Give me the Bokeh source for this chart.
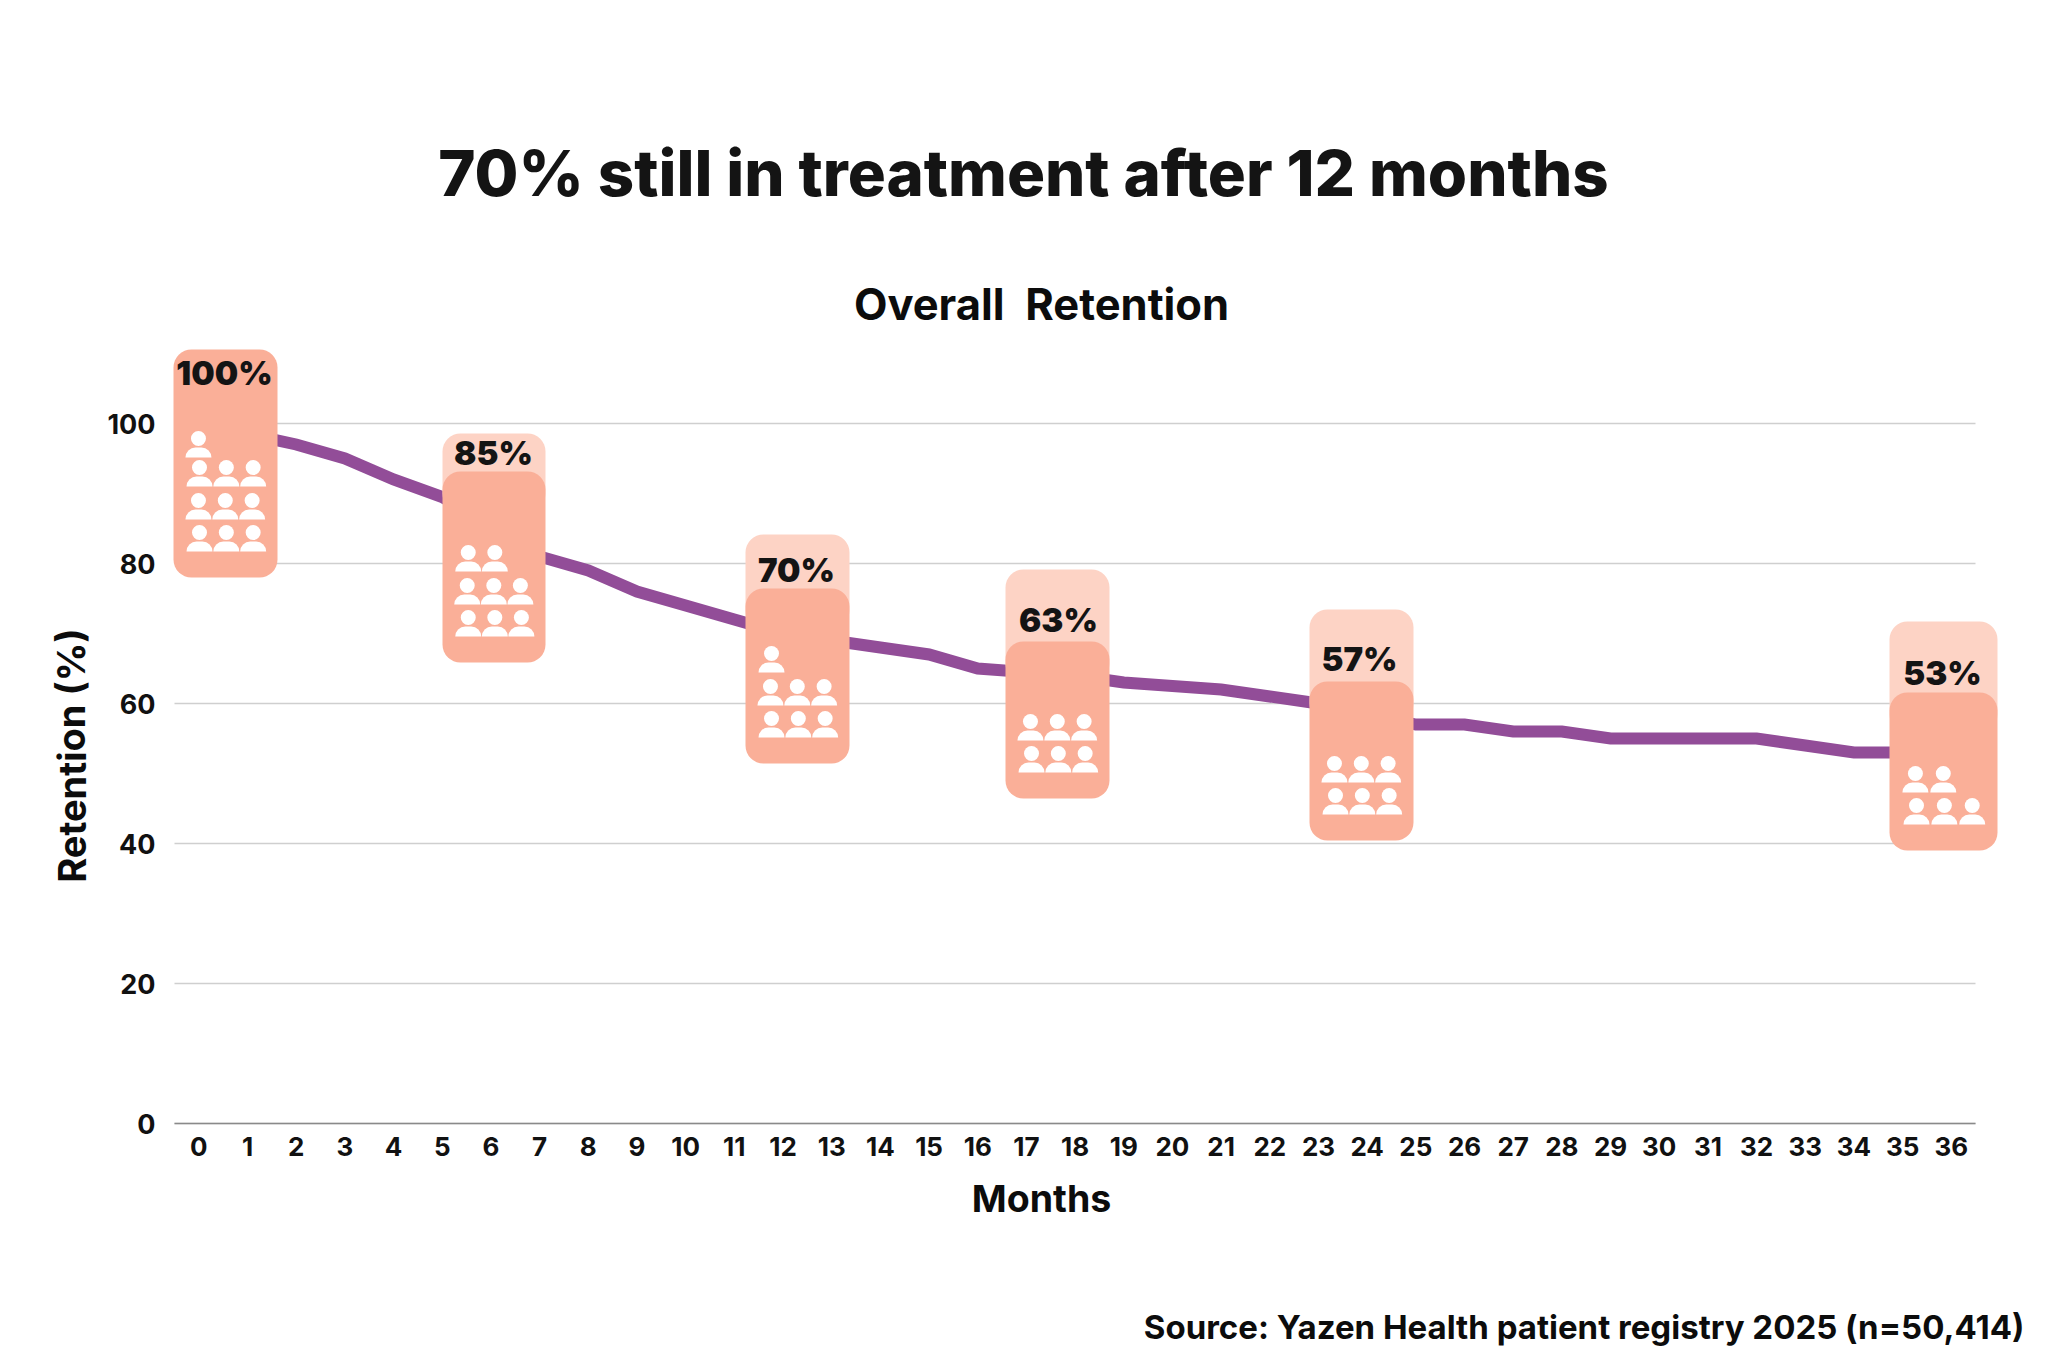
from bokeh.plotting import figure
from bokeh.models import Label, FixedTicker, Range1d
from bokeh.core.properties import value
from bokeh.embed import file_html
from bokeh.resources import INLINE

# ---- data ----
months = list(range(37))
retention = [100, 98.5, 97, 95, 92, 89.5, 85.5, 81, 79, 76, 74, 72, 70, 69, 68, 67, 65, 64.5, 64,
             63, 62.5, 62, 61, 60, 58.5, 57, 57, 56, 56, 55, 55, 55, 55, 54, 53, 53, 53]
milestone_labels = ["100%", "85%", "70%", "63%", "57%", "53%"]
icon_counts = [10, 8, 7, 6, 6, 5]
x_ticks = months
y_ticks = [0, 20, 40, 60, 80, 100]
title_text = "70% still in treatment after 12 months"
subtitle_text = "Overall\u00a0 Retention"
source_text = "Source: Yazen Health patient registry 2025 (n=50,414)"

# ---- layout (reference pixel geometry) ----
W = 2032; H = 1352
X_PER = 48.68; X_LEFT = 174.0; Y_PER = 7.0; Y_ZERO = 1123.0
def xd(px): return (px - X_LEFT) / X_PER - 0.5
def yd(py): return (Y_ZERO - py) / Y_PER

# card: left, right, light top, dark top, bottom, label centre x, label centre y
cards = [
    (173, 277, None, 349, 577, 224, 372),
    (442, 545, 433, 471, 662, 493, 452),
    (745, 849, 534, 588, 763, 796, 569),
    (1005, 1109, 569, 641, 798, 1058, 619),
    (1309, 1413, 609, 681, 840, 1359, 658),
    (1889, 1997, 621, 692, 850, 1942, 672),
]
row_dx = [0.25, 0.24, 0.25, 0.24]
row_dy = [45, 77, 110, 139]

p = figure(width=W, height=H, output_backend="svg", toolbar_location=None,
           x_range=Range1d(xd(0), xd(W)), y_range=Range1d(yd(H), yd(0)),
           min_border=0, background_fill_color="white",
           border_fill_color="white", outline_line_color=None)

p.xaxis.ticker = FixedTicker(ticks=x_ticks)
p.yaxis.ticker = FixedTicker(ticks=y_ticks)
p.xaxis.fixed_location = 0
p.yaxis.fixed_location = -0.5
p.xgrid.visible = False
p.ygrid.grid_line_color = "#cfcfcf"
p.ygrid.grid_line_width = 1.5
p.ygrid.cross_bounds = (-0.5, 36.5)
for ax in (p.xaxis[0], p.yaxis[0]):
    ax.major_tick_line_color = None
    ax.minor_tick_line_color = None
    ax.major_label_text_font = "Inter"
    ax.major_label_text_font_style = "bold"
    ax.major_label_text_color = "#111111"
p.xaxis[0].major_label_text_font_size = "26px"
p.yaxis[0].major_label_text_font_size = "27px"
p.yaxis[0].axis_line_color = None
p.yaxis[0].major_label_standoff = 13
p.xaxis[0].axis_line_color = "#8a8a8a"
p.xaxis[0].axis_line_width = 1.5
p.xaxis[0].bounds = (-0.5, 36.5)
p.xaxis[0].major_label_standoff = 7

p.line(months, retention, line_color="#924D98", line_width=12, line_join="miter")

# cards
for (l, r, lt, dt, b, tx, ty), lab, n in zip(cards, milestone_labels, icon_counts):
    if lt is not None:
        p.quad(left=[xd(l)], right=[xd(r)], top=[yd(lt)], bottom=[yd(dt + 40)],
               fill_color="#FDD3C5", line_color=None, border_radius=18)
    p.quad(left=[xd(l)], right=[xd(r)], top=[yd(dt)], bottom=[yd(b)],
           fill_color="#FAAF98", line_color=None, border_radius=18)
    # icons: rows of three, filled from the bottom
    w = r - l
    rows = []
    left_over = n
    while left_over > 0:
        rows.append(min(3, left_over)); left_over -= 3
    hx, hy, sl, sr, st, sb = [], [], [], [], [], []
    for i, c in enumerate(rows):
        for j in range(c):
            cx = l + w * (row_dx[i] + 0.258 * j)
            cy = b - row_dy[i]
            hx.append(xd(cx)); hy.append(yd(cy))
            sl.append(xd(cx - 13)); sr.append(xd(cx + 13))
            st.append(yd(cy + 9)); sb.append(yd(cy + 19))
    p.scatter(hx, hy, marker="circle", size=15, fill_color="white", line_color=None)
    p.quad(left=sl, right=sr, top=st, bottom=sb, fill_color="white", line_color=None,
           border_radius=(10, 10, 0, 0))
    p.text([xd(tx)], [yd(ty)], text=[lab], text_font=value("Inter Black"), text_font_style="normal",
           text_font_size="33px", text_color="#141414", text_align="center", text_baseline="middle")

def label(txt, x, y, size, color="#141414", align="center", angle=0, base="alphabetic",
          font="Inter", style="bold"):
    p.add_layout(Label(x=xd(x), y=yd(y), x_units="data", y_units="data", text=txt, text_font=font,
                       text_font_style=style, text_font_size=f"{size}px", text_color=color,
                       text_align=align, text_baseline=base, angle=angle))

label(title_text, 1023, 172, 63.5, font="Inter ExtraBold", style="normal")
label(subtitle_text, 1041, 303, 43.5, color="#0c0c0c")
label("Months", 1041, 1198, 37.5, color="#0c0c0c")
label("Retention (%)", 71, 755, 38, color="#0c0c0c", base="middle", angle=1.5708)
label(source_text, 2024, 1326, 33, color="#0c0c0c", align="right")

open("out.html", "w").write(file_html(p, INLINE))
